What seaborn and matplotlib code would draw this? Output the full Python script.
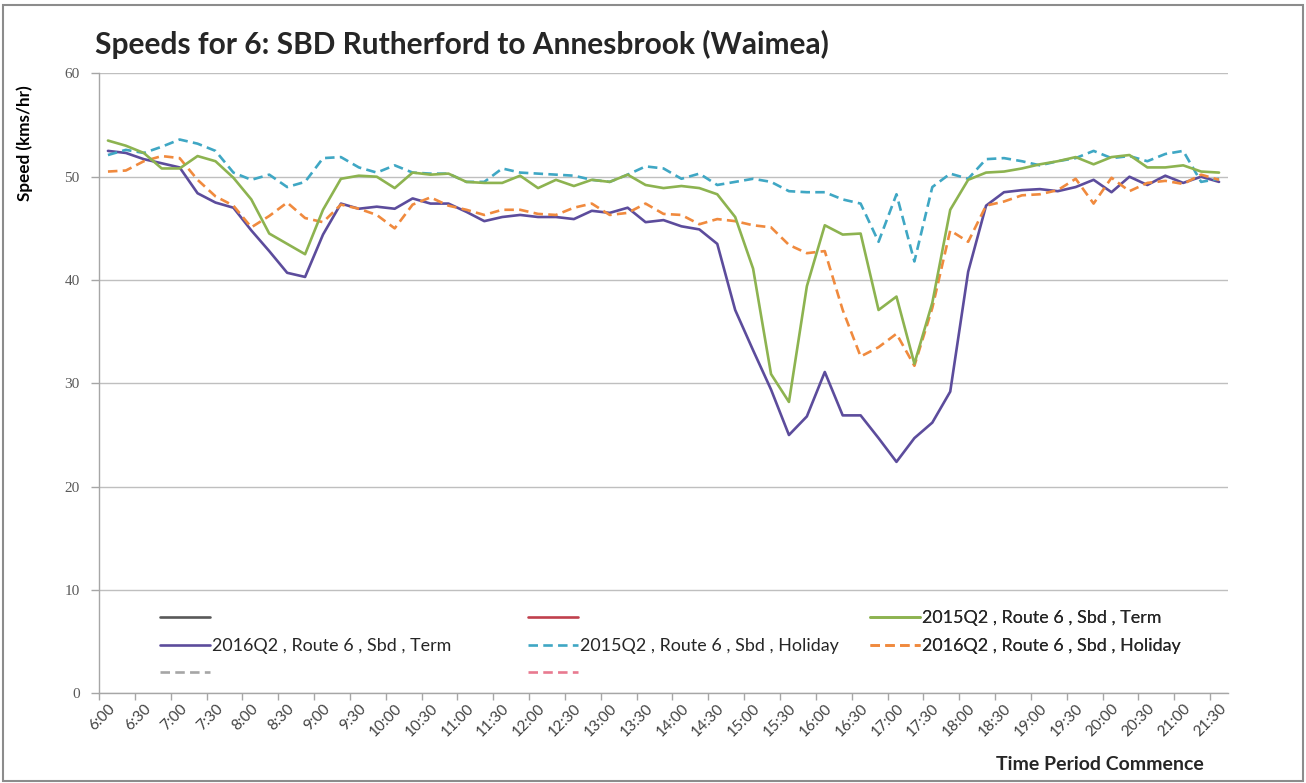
import matplotlib
matplotlib.use("Agg")
import matplotlib.pyplot as plt
import numpy as np
import pandas as pd
import seaborn as sns
from matplotlib.lines import Line2D
from matplotlib.patches import Rectangle

# 15-minute time periods from 6:00 to 21:30
times = [f"{h}:{m:02d}" for h in range(6, 22) for m in (0, 15, 30, 45)][:63]

term_2015 = [53.5, 53.0, 52.3, 50.8, 50.8, 52.0, 51.5, 49.9, 47.8, 44.5, 43.5, 42.5, 46.8, 49.8, 50.1, 50.0,
             48.9, 50.4, 50.2, 50.3, 49.5, 49.4, 49.4, 50.1, 48.9, 49.7, 49.1, 49.7, 49.5, 50.2, 49.2, 48.9,
             49.1, 48.9, 48.3, 46.1, 41.1, 30.9, 28.2, 39.4, 45.3, 44.4, 44.5, 37.1, 38.4, 31.9, 37.8,
             46.8, 49.7, 50.4, 50.5, 50.8, 51.2, 51.5, 51.9, 51.2, 51.9, 52.1, 50.9, 50.9, 51.1, 50.5, 50.4]

term_2016 = [52.5, 52.3, 51.7, 51.3, 50.9, 48.4, 47.5, 47.0, 44.8, 42.8, 40.7, 40.3, 44.4, 47.4, 46.9, 47.1,
             46.9, 47.9, 47.4, 47.4, 46.6, 45.7, 46.1, 46.3, 46.1, 46.1, 45.9, 46.7, 46.5, 47.0, 45.6, 45.8,
             45.2, 44.9, 43.5, 37.1, 33.2, 29.4, 25.0, 26.8, 31.1, 26.9, 26.9, 24.7, 22.4, 24.7, 26.2,
             29.2, 40.8, 47.2, 48.5, 48.7, 48.8, 48.6, 49.0, 49.7, 48.5, 50.0, 49.2, 50.1, 49.4, 50.0, 49.5]

holiday_2015 = [52.1, 52.6, 52.3, 52.9, 53.6, 53.2, 52.5, 50.4, 49.7, 50.2, 49.0, 49.5, 51.8, 51.9, 50.9, 50.4,
                51.1, 50.4, 50.3, 50.3, 49.5, 49.5, 50.8, 50.4, 50.3, 50.2, 50.1, 49.7, 49.5, 50.2, 51.0, 50.8,
                49.8, 50.3, 49.2, 49.5, 49.8, 49.5, 48.6, 48.5, 48.5, 47.8, 47.4, 43.7, 48.3, 41.8, 49.0,
                50.3, 49.8, 51.7, 51.8, 51.5, 51.1, 51.5, 51.8, 52.5, 51.8, 52.0, 51.5, 52.2, 52.5, 49.5, 49.8]

holiday_2016 = [50.5, 50.6, 51.5, 52.0, 51.8, 49.7, 48.1, 47.2, 45.1, 46.2, 47.5, 46.0, 45.6, 47.3, 46.9, 46.3,
                45.0, 47.3, 48.0, 47.2, 46.8, 46.3, 46.8, 46.8, 46.4, 46.3, 47.0, 47.4, 46.3, 46.5, 47.4, 46.4,
                46.3, 45.4, 45.9, 45.7, 45.3, 45.1, 43.4, 42.6, 42.8, 37.1, 32.6, 33.5, 34.8, 31.7, 37.3,
                44.8, 43.7, 47.2, 47.6, 48.2, 48.3, 48.7, 49.8, 47.4, 49.9, 48.6, 49.4, 49.6, 49.3, 50.2, 49.7]

label_term_2015 = "2015Q2 , Route 6 , Sbd , Term"
label_term_2016 = "2016Q2 , Route 6 , Sbd , Term"
label_hol_2015 = "2015Q2 , Route 6 , Sbd , Holiday"
label_hol_2016 = "2016Q2 , Route 6 , Sbd , Holiday"

c_green = "#8db350"
c_purple = "#5c4c9c"
c_teal = "#3fa7c4"
c_orange = "#f08a3e"

df = pd.DataFrame({
    "period": np.arange(len(times)),
    "term_2015": term_2015,
    "term_2016": term_2016,
    "holiday_2015": holiday_2015,
    "holiday_2016": holiday_2016,
})

sns.set_theme(style="white")
plt.rcParams["font.family"] = ["Lato", "DejaVu Sans"]

W, H = 1306, 783
fig = plt.figure(figsize=(W / 100, H / 100), dpi=100)
fig.patch.set_facecolor("white")
ax = fig.add_axes([99 / W, 1 - 693.3 / H, (1228 - 99) / W, (693.3 - 73.4) / H])

lw = 1.9
dash = (0, (3.6, 2.0))
series = [
    ("term_2016", c_purple, "-"),
    ("holiday_2015", c_teal, dash),
    ("holiday_2016", c_orange, dash),
    ("term_2015", c_green, "-"),
]
for col, color, ls in series:
    sns.lineplot(data=df, x="period", y=col, ax=ax, color=color, linewidth=lw,
                 linestyle=ls, sort=False, legend=False)

ax.set_xlim(-0.5, len(times) - 0.5)
ax.set_ylim(0, 60)
ax.set_yticks(np.arange(0, 61, 10))
ax.set_yticklabels([str(v) for v in range(0, 61, 10)], family="Liberation Serif",
                   fontsize=11, color="#595959")
ax.yaxis.grid(True, color="#bfbfbf", linewidth=1.0)
ax.set_axisbelow(True)
ax.tick_params(axis="y", length=6, width=1, color="#a6a6a6", pad=8, left=True)

major = np.arange(0, len(times), 2)
ax.set_xticks(major)
ax.set_xticklabels([times[i] for i in major], rotation=45, ha="right", va="top",
                   rotation_mode="anchor", fontsize=11, color="#404040")
ax.set_xticks(np.arange(-0.5, len(times), 2), minor=True)
ax.tick_params(axis="x", which="major", length=0, pad=6)
ax.tick_params(axis="x", which="minor", length=5, width=1, color="#a6a6a6", bottom=True)

for side in ("top", "right"):
    ax.spines[side].set_visible(False)
for side in ("left", "bottom"):
    ax.spines[side].set_color("#a6a6a6")
    ax.spines[side].set_linewidth(1.0)

ax.set_xlabel("")
ax.set_ylabel("")

fig.text(95 / W, 1 - 44 / H, "Speeds for 6: SBD Rutherford to Annesbrook (Waimea)",
         fontsize=21.5, fontweight="bold", color="#262626", ha="left", va="center")
fig.text(25 / W, 1 - 143 / H, "Speed (kms/hr)", rotation=90, fontsize=12.3,
         fontweight="bold", color="#000000", ha="center", va="center")
fig.text(1100 / W, 1 - 765 / H, "Time Period Commence", fontsize=14,
         fontweight="bold", color="#262626", ha="center", va="center")


def handle(color, ls):
    return Line2D([], [], color=color, linewidth=lw, linestyle=ls)


leg_kw = dict(frameon=False, fontsize=12.9, handlelength=2.8, handletextpad=0.12,
              labelspacing=0.66, borderaxespad=0, borderpad=0,
              loc="upper left", bbox_transform=fig.transFigure, labelcolor="#262626")
columns = [
    (160, [handle("#595959", "-"), handle(c_purple, "-"), handle("#a6a6a6", dash)],
     ["", label_term_2016, ""]),
    (528, [handle("#c0404d", "-"), handle(c_teal, dash), handle("#e87a90", dash)],
     ["", label_hol_2015, ""]),
    (870, [handle(c_green, "-"), handle(c_orange, dash)],
     [label_term_2015, label_hol_2016]),
]
for x0, hs, ls_ in columns:
    lg = ax.legend(hs, ls_, bbox_to_anchor=(x0 / W, 1 - 610 / H), **leg_kw)
    ax.add_artist(lg)

fig.add_artist(Rectangle((0.002, 0.002), 0.996, 0.992, transform=fig.transFigure,
                         fill=False, edgecolor="#8c8c8c", linewidth=1.5))

fig.savefig("out.png", dpi=100, facecolor="white")
